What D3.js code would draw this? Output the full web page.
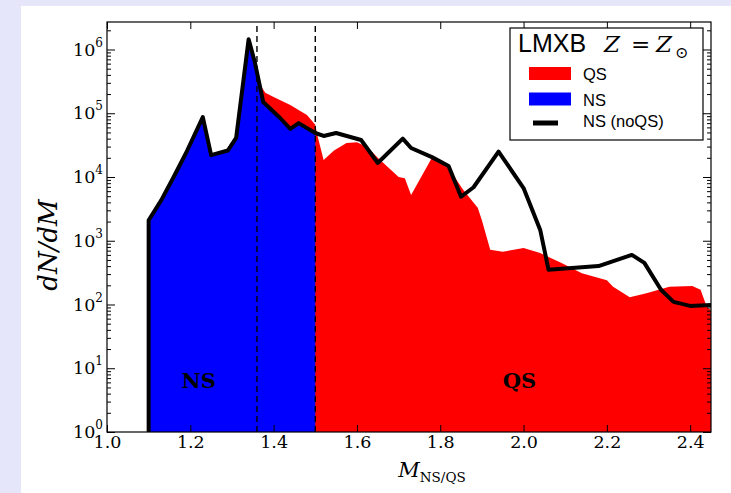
<!DOCTYPE html>
<html>
<head>
<meta charset="utf-8">
<script src="https://cdn.jsdelivr.net/npm/d3@7"></script>
<style>
  body { margin: 0; background: #fff; }
  svg { display: block; }
</style>
</head>
<body>
<svg id="chart" width="731" height="493"></svg>
<script>
// Mass distribution of compact objects in LMXBs (solar metallicity)

// NS mass spectrum without quark stars (black curve)
const massNoQS = [1.10, 1.10, 1.13, 1.16, 1.19, 1.23, 1.25, 1.29, 1.31, 1.34, 1.355, 1.375, 1.415, 1.44, 1.46, 1.50,
                  1.52, 1.55, 1.61, 1.65, 1.71, 1.73, 1.78, 1.82, 1.85, 1.88, 1.94, 2.00, 2.04, 2.06, 2.18, 2.26,
                  2.29, 2.33, 2.36, 2.40, 2.45];
const dndmNoQS = [1, 2100, 4300, 1.0e4, 2.4e4, 8.7e4, 2.2e4, 2.6e4, 4.1e4, 1.45e6, 6.3e5, 1.5e5, 8.5e4, 5.7e4, 7.0e4, 4.9e4,
                  4.4e4, 4.9e4, 3.8e4, 1.66e4, 4.0e4, 2.85e4, 2.05e4, 1.49e4, 4.9e3, 6.9e3, 2.5e4, 6.7e3, 1.48e3, 350, 400, 600,
                  450, 170, 110, 95, 98];

// Quark star mass spectrum (red fill)
const massQS = [1.36, 1.38, 1.40, 1.44, 1.48, 1.50, 1.505, 1.52, 1.545, 1.575, 1.60, 1.625, 1.65, 1.70, 1.715, 1.73,
                1.78, 1.82, 1.855, 1.89, 1.90, 1.92, 1.95, 2.00, 2.04, 2.09, 2.14, 2.20, 2.215, 2.255, 2.295, 2.35,
                2.405, 2.425, 2.44, 2.45];
const dndmQS = [3.3e5, 2.1e5, 1.8e5, 1.35e5, 9.4e4, 6.6e4, 4.5e4, 1.85e4, 2.6e4, 3.4e4, 3.5e4, 2.95e4, 2.0e4, 1.0e4, 9.6e3, 5.2e3,
                2.0e4, 1.38e4, 6.3e3, 3.3e3, 2.1e3, 720, 670, 770, 640, 450, 310, 240, 190, 130, 150, 190,
                195, 170, 91, 82];

// Upper mass of the NS population (blue fill) and the two reference masses
const nsMaxMass = 1.5;
const markerMasses = [1.36, 1.5];

const xTicks = [1.0, 1.2, 1.4, 1.6, 1.8, 2.0, 2.2, 2.4];
const yExponents = [0, 1, 2, 3, 4, 5, 6];
const legendLabels = ["QS", "NS", "NS (noQS)"];
const regionLabels = [{ text: "NS", m: 1.22 }, { text: "QS", m: 1.99 }];

const colors = { qs: "#ff0000", ns: "#0000ff", line: "#000000" };

const W = 731, H = 493;
const margin = { top: 22, right: 20, bottom: 61, left: 107 };
const svg = d3.select("#chart");

// page backdrop
svg.append("rect").attr("width", W).attr("height", H).attr("fill", "#ffffff");
svg.append("rect").attr("width", 21).attr("height", H).attr("fill", "#e6e6fa");
svg.append("rect").attr("width", W).attr("height", 6).attr("fill", "#e6e6fa");

const x = d3.scaleLinear().domain([1.0, 2.45]).range([margin.left, W - margin.right]);
const y = d3.scaleLog().domain([1, 2.7e6]).range([H - margin.bottom, margin.top]);

const x0 = margin.left, x1 = W - margin.right, y0 = H - margin.bottom, y1 = margin.top;

svg.append("clipPath").attr("id", "plot-clip")
  .append("rect").attr("x", x0).attr("y", y1).attr("width", x1 - x0).attr("height", y0 - y1);

const plot = svg.append("g").attr("clip-path", "url(#plot-clip)");

const noQS = massNoQS.map((m, i) => ({ m, v: dndmNoQS[i] }));
const qs = massQS.map((m, i) => ({ m, v: dndmQS[i] }));
const ns = noQS.filter(d => d.m <= nsMaxMass);

const area = d3.area().x(d => x(d.m)).y0(y(1)).y1(d => y(d.v));
const line = d3.line().x(d => x(d.m)).y(d => y(d.v));

plot.append("path").datum(qs).attr("d", area).attr("fill", colors.qs);
plot.append("path").datum(ns).attr("d", area).attr("fill", colors.ns);

plot.selectAll("line.marker").data(markerMasses).join("line")
  .attr("class", "marker")
  .attr("x1", d => x(d)).attr("x2", d => x(d))
  .attr("y1", y0).attr("y2", y1)
  .attr("stroke", "#000").attr("stroke-width", 1.4)
  .attr("stroke-dasharray", "6,4");

plot.append("path").datum(noQS).attr("d", line)
  .attr("fill", "none").attr("stroke", colors.line)
  .attr("stroke-width", 4).attr("stroke-linejoin", "round");

// region labels
svg.selectAll("text.region").data(regionLabels).join("text")
  .attr("class", "region")
  .attr("x", d => x(d.m)).attr("y", 388)
  .attr("text-anchor", "middle")
  .attr("font-family", "DejaVu Serif").attr("font-weight", "bold").attr("font-size", 21)
  .attr("fill", "#000")
  .text(d => d.text);

// axes
const serif = "DejaVu Serif";
const majorY = yExponents.map(e => Math.pow(10, e));
const minorY = [];
yExponents.forEach(e => { for (let k = 2; k <= 9; k++) { const v = k * Math.pow(10, e); if (v <= 2.7e6) minorY.push(v); } });

function styleAxis(g) {
  g.select(".domain").remove();
  g.selectAll(".tick line").attr("stroke", "#000").attr("stroke-width", 1);
}

svg.append("g").attr("transform", `translate(0,${y0})`)
  .call(d3.axisBottom(x).tickValues(xTicks).tickFormat(d3.format(".1f")).tickSizeInner(-7).tickSizeOuter(0).tickPadding(4))
  .call(styleAxis)
  .call(g => g.selectAll("text").attr("font-family", serif).attr("font-size", 17.5).attr("fill", "#000"));

svg.append("g").attr("transform", `translate(0,${y1})`)
  .call(d3.axisTop(x).tickValues(xTicks).tickFormat("").tickSizeInner(-7).tickSizeOuter(0))
  .call(styleAxis);

svg.append("g").attr("transform", `translate(${x0},0)`)
  .call(d3.axisLeft(y).tickValues(minorY).tickFormat("").tickSizeInner(-4).tickSizeOuter(0))
  .call(styleAxis);

svg.append("g").attr("transform", `translate(${x1},0)`)
  .call(d3.axisRight(y).tickValues(minorY).tickFormat("").tickSizeInner(-4).tickSizeOuter(0))
  .call(styleAxis);

svg.append("g").attr("transform", `translate(${x1},0)`)
  .call(d3.axisRight(y).tickValues(majorY).tickFormat("").tickSizeInner(-8).tickSizeOuter(0))
  .call(styleAxis);

svg.append("g").attr("transform", `translate(${x0},0)`)
  .call(d3.axisLeft(y).tickValues(majorY).tickFormat(d => Math.round(Math.log10(d))).tickSizeInner(-8).tickSizeOuter(0).tickPadding(4))
  .call(styleAxis)
  .call(g => g.selectAll("text").each(function (d) {
    const t = d3.select(this);
    const e = Math.round(Math.log10(d));
    t.text(null).attr("font-family", serif).attr("font-size", 17.5).attr("fill", "#000");
    t.append("tspan").text("10");
    t.append("tspan").attr("font-size", 12).attr("dy", "-0.75em").text(e);
  }));

// frame
svg.append("rect").attr("x", x0).attr("y", y1).attr("width", x1 - x0).attr("height", y0 - y1)
  .attr("fill", "none").attr("stroke", "#000").attr("stroke-width", 1.2);

// axis titles
const xt = svg.append("text").attr("x", 432).attr("y", 477).attr("text-anchor", "middle")
  .attr("font-family", serif).attr("fill", "#000");
xt.append("tspan").attr("font-style", "italic").attr("font-size", 21).text("M");
xt.append("tspan").attr("font-size", 13.5).attr("dy", 5).text("NS/QS");

svg.append("text").attr("transform", "translate(57,245) rotate(-90)")
  .attr("text-anchor", "middle").attr("font-family", serif).attr("font-style", "italic")
  .attr("font-size", 26).attr("fill", "#000").text("dN/dM");

// legend
const lg = svg.append("g");
lg.append("rect").attr("x", 510).attr("y", 28).attr("width", 193).attr("height", 112)
  .attr("fill", "#fff").attr("stroke", "#000").attr("stroke-width", 1.2);
lg.append("text").attr("x", 518).attr("y", 52).attr("font-family", "Liberation Sans").attr("font-size", 25)
  .attr("fill", "#000").text("LMXB");
lg.append("text").attr("x", 604).attr("y", 52).attr("font-family", serif).attr("font-style", "italic")
  .attr("font-size", 23).attr("fill", "#000").text("Z");
lg.append("text").attr("x", 631).attr("y", 52).attr("font-family", serif)
  .attr("font-size", 23).attr("fill", "#000").text("=");
lg.append("text").attr("x", 656).attr("y", 52).attr("font-family", serif).attr("font-style", "italic")
  .attr("font-size", 23).attr("fill", "#000").text("Z");
lg.append("text").attr("x", 675).attr("y", 58).attr("font-family", serif)
  .attr("font-size", 16).attr("fill", "#000").text("\u2299");

const rowY = [80, 105.5, 127];
lg.append("rect").attr("x", 529).attr("y", rowY[0] - 13).attr("width", 42).attr("height", 13).attr("fill", colors.qs);
lg.append("rect").attr("x", 529).attr("y", rowY[1] - 13).attr("width", 42).attr("height", 13).attr("fill", colors.ns);
lg.append("line").attr("x1", 533).attr("x2", 558).attr("y1", rowY[2] - 4).attr("y2", rowY[2] - 4)
  .attr("stroke", colors.line).attr("stroke-width", 5);
lg.selectAll("text.entry").data(legendLabels).join("text")
  .attr("class", "entry")
  .attr("x", 583).attr("y", (d, i) => rowY[i])
  .attr("font-family", "Liberation Sans").attr("font-size", 16.5).attr("fill", "#000")
  .text(d => d);
</script>
</body>
</html>
